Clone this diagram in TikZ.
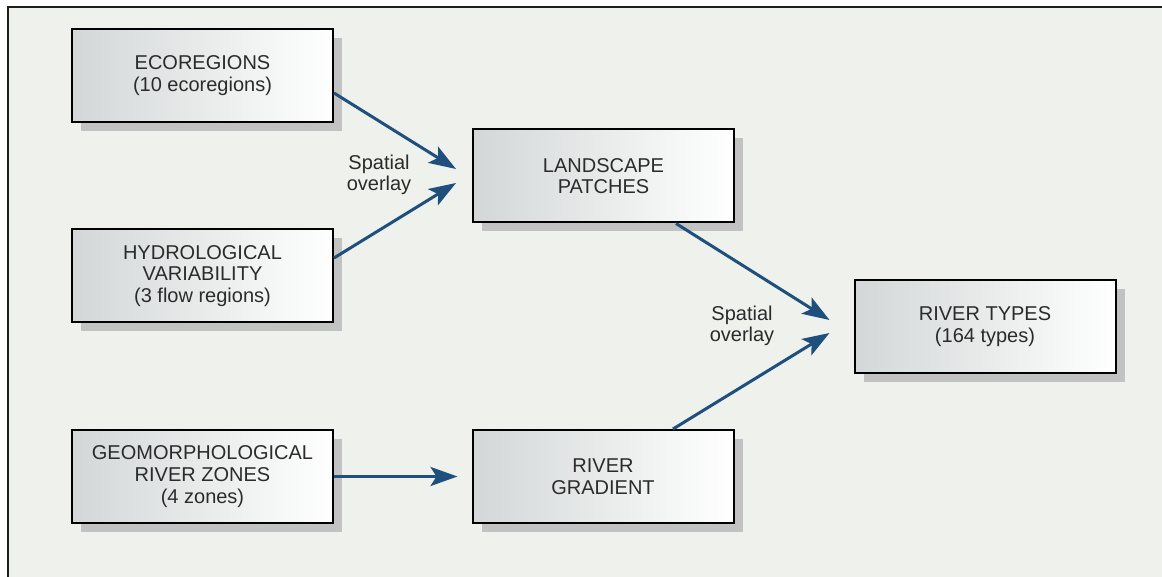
\documentclass[tikz,border=0pt]{standalone}
\usepackage{fontspec}
\setmainfont{Liberation Sans}
\usetikzlibrary{arrows.meta,shadows}

\definecolor{panelbg}{HTML}{EEF1EC}
\definecolor{framecol}{HTML}{1E1E1E}
\definecolor{flowblue}{HTML}{1F4F7D}
\definecolor{shadowgray}{HTML}{C2C2C2}
\definecolor{boxgray}{HTML}{D3D7D7}
\definecolor{txt}{HTML}{2B2B2B}

\tikzset{
  stagebox/.style={
    draw=black, line width=2pt, rectangle,
    minimum width=261pt, minimum height=93pt,
    left color=boxgray, right color=white,
    align=center, text=txt,
    font=\fontsize{20}{21.7}\selectfont,
    drop shadow={shadow xshift=9pt, shadow yshift=-9pt, fill=shadowgray, opacity=1}
  },
  flow/.style={
    draw=flowblue, line width=3pt,
    -{Stealth[length=27pt, width=19pt, inset=6pt]}
  },
  flowlabel/.style={
    align=center, text=txt, inner sep=0pt,
    font=\fontsize{20}{21}\selectfont
  }
}

\begin{document}
\begin{tikzpicture}[x=1pt, y=-1pt]
  \useasboundingbox (0,0) rectangle (1162,577);

  % panel background and its frame (top and left edges)
  \fill[white] (0,0) rectangle (1162,577);
  \fill[panelbg] (8,7) rectangle (1162,577);
  \draw[framecol, line width=2pt] (8,577) -- (8,7) -- (1162,7);

  % stages
  \node[stagebox] (eco)   at (202.5, 75.5) {ECOREGIONS\\(10 ecoregions)};
  \node[stagebox] (hyd)   at (202.5, 276)  {HYDROLOGICAL\\VARIABILITY\\(3 flow regions)};
  \node[stagebox] (geo)   at (202.5, 476.5) {GEOMORPHOLOGICAL\\RIVER ZONES\\(4 zones)};
  \node[stagebox] (land)  at (603.5, 176)  {LANDSCAPE\\PATCHES};
  \node[stagebox] (grad)  at (603, 476.5)  {RIVER\\GRADIENT};
  \node[stagebox] (types) at (985, 326.5)  {RIVER TYPES\\(164 types)};

  % overlay labels
  \node[flowlabel] (ov1) at (379, 175) {Spatial\\overlay};
  \node[flowlabel] (ov2) at (742, 326) {Spatial\\overlay};

  % connectors
  \draw[flow] ([yshift=-17.5pt]eco.east) -- ([xshift=-16pt, yshift=7pt]land.west);
  \draw[flow] ([yshift=18pt]hyd.east) -- ([xshift=-16pt, yshift=-7pt]land.west);
  \draw[flow] (geo.east) -- ([xshift=-14pt]grad.west);
  \draw[flow] ([xshift=72.5pt]land.south) -- ([xshift=-24pt, yshift=6.5pt]types.west);
  \draw[flow] ([xshift=70pt]grad.north) -- ([xshift=-24pt, yshift=-6.5pt]types.west);
\end{tikzpicture}
\end{document}
